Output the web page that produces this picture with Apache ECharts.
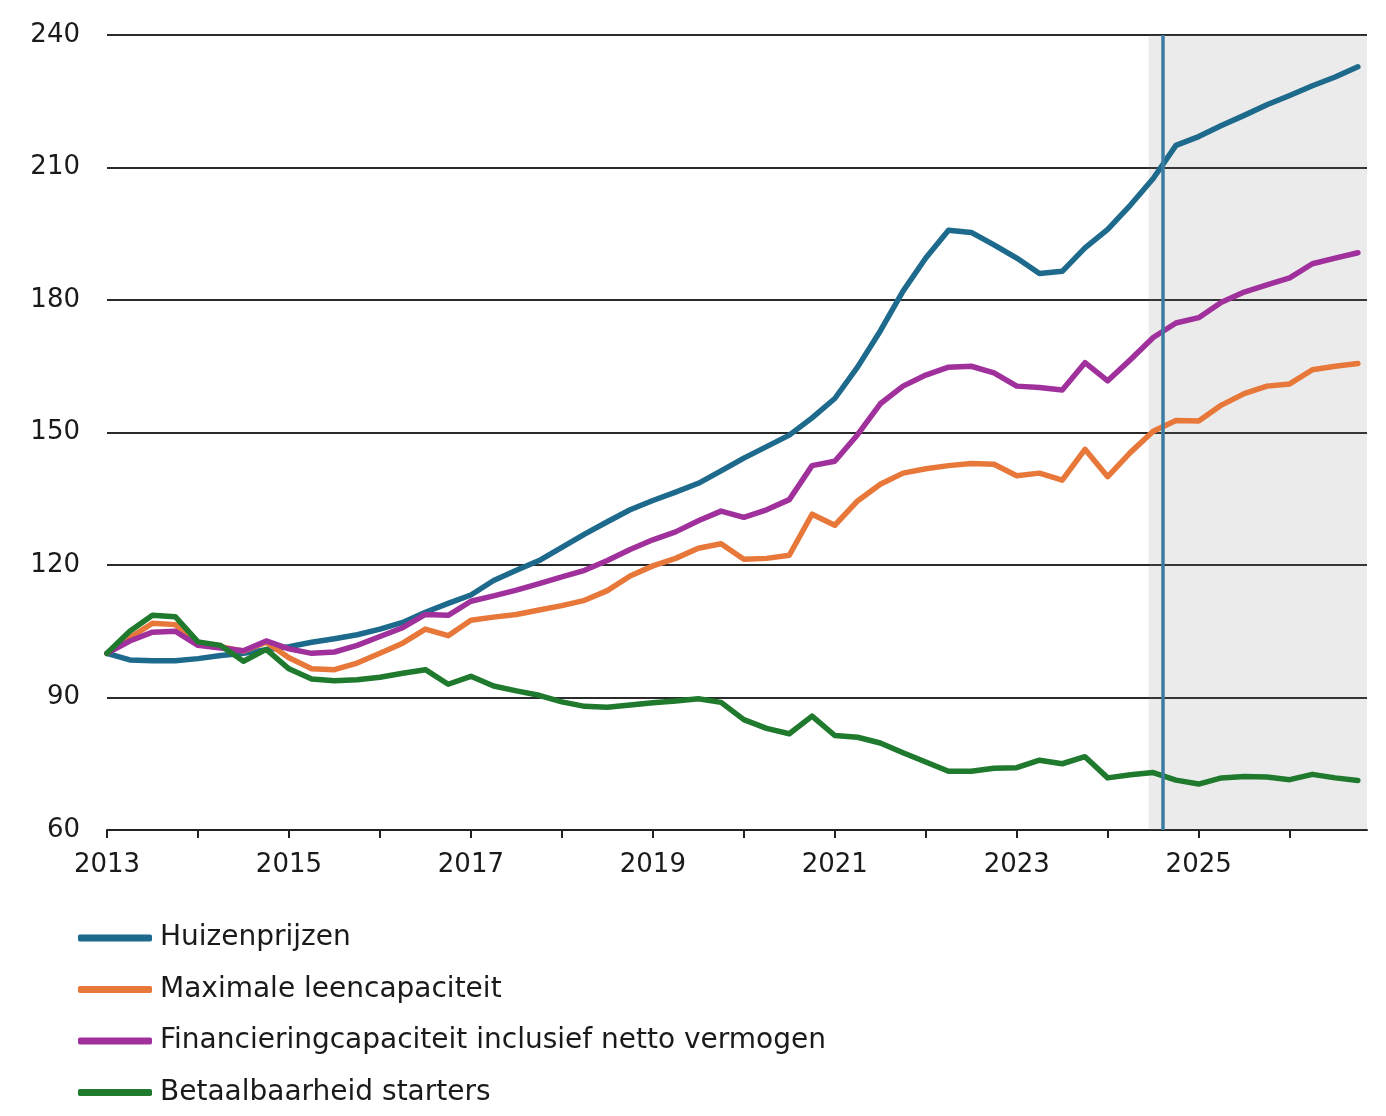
<!DOCTYPE html>
<html>
<head>
<meta charset="utf-8">
<script src="https://cdn.jsdelivr.net/npm/echarts@6/dist/echarts.min.js"></script>
<style>
html,body{margin:0;padding:0;background:#fff;}
#chart{width:1386px;height:1116px;}
</style>
</head>
<body>
<div id="chart"></div>
<script>
// Quarterly observations 2013Q1 .. 2026Q4
const startYear = 2013;
const quarterCount = 56;
const xTickYears = [2013,2014,2015,2016,2017,2018,2019,2020,2021,2022,2023,2024,2025,2026];
const xLabelYears = [2013,2015,2017,2019,2021,2023,2025];
const yTicks = [60,90,120,150,180,210,240];

const seriesNames = [
  'Huizenprijzen',
  'Maximale leencapaciteit',
  'Financieringcapaciteit inclusief netto vermogen',
  'Betaalbaarheid starters'
];

const huizenprijzen = [
  100, 98.5, 98.3, 98.3, 98.8, 99.5, 100, 100.8,
  101.5, 102.5, 103.3, 104.2, 105.5, 107, 109.3, 111.3,
  113.2, 116.5, 118.8, 121, 124, 127, 129.8, 132.5,
  134.6, 136.5, 138.5, 141.3, 144.2, 146.8, 149.4, 153.3,
  157.7, 164.8, 173, 182, 189.5, 195.8, 195.3, 192.5,
  189.5, 186, 186.5, 191.8, 196, 201.5, 207.5, 215,
  217, 219.5, 221.8, 224.2, 226.3, 228.5, 230.5, 232.8
];
const leencapaciteit = [
  100, 103.5, 106.8, 106.5, 102.2, 101.5, 100.5, 102.5,
  99, 96.5, 96.3, 97.8, 100, 102.3, 105.5, 104,
  107.5, 108.2, 108.8, 109.8, 110.8, 112, 114.2, 117.5,
  119.8, 121.5, 123.8, 124.8, 121.3, 121.5, 122.2, 131.5,
  129, 134.5, 138.3, 140.8, 141.8, 142.5, 143, 142.8,
  140.2, 140.8, 139.2, 146.2, 140, 145.5, 150.3, 152.7,
  152.6, 156.2, 158.8, 160.5, 161, 164.2, 165, 165.6
];
const financiering = [
  100, 102.8, 104.8, 105, 101.8, 101.2, 100.6, 102.8,
  101, 100, 100.3, 101.8, 103.8, 105.8, 108.8, 108.6,
  111.8, 113, 114.3, 115.8, 117.3, 118.8, 121, 123.5,
  125.7, 127.5, 130, 132.2, 130.8, 132.5, 134.8, 142.5,
  143.5, 149.5, 156.5, 160.5, 163, 164.8, 165, 163.5,
  160.5, 160.2, 159.6, 165.8, 161.7, 166.5, 171.5, 174.8,
  176, 179.5, 181.8, 183.4, 185, 188.2, 189.5, 190.7
];
const betaalbaarheid = [
  100, 105, 108.6, 108.3, 102.6, 101.8, 98.2, 100.9,
  96.5, 94.2, 93.8, 94, 94.6, 95.5, 96.3, 93,
  94.8, 92.6, 91.5, 90.5, 89, 88, 87.8, 88.3,
  88.8, 89.2, 89.7, 88.9, 85, 83, 81.8, 85.8,
  81.4, 81, 79.7, 77.5, 75.4, 73.3, 73.3, 74,
  74.1, 75.8, 75, 76.6, 71.8, 72.5, 73, 71.3,
  70.4, 71.8, 72.1, 72, 71.4, 72.6, 71.8, 71.2
];
const forecastStart = 2024.45;
const forecastLine = 2024.6;
const axisEnd = 2026.85;

const colors = ['#1d6a8c', '#e8783a', '#a0309b', '#1f7a2e'];

const quarterX = [];
for (let i = 0; i < quarterCount; i++) quarterX.push(startYear + i * 0.25);
const pair = arr => arr.map((v, i) => [quarterX[i], v]);

const chart = echarts.init(document.getElementById('chart'));
const font = 'DejaVu Sans';
const lineSeries = [huizenprijzen, leencapaciteit, financiering, betaalbaarheid].map((arr, k) => ({
  name: seriesNames[k],
  type: 'line',
  data: pair(arr),
  showSymbol: false,
  symbol: 'none',
  smooth: false,
  lineStyle: { width: 5.5, color: colors[k], join: 'round', cap: 'round' },
  itemStyle: { color: colors[k] },
  z: 3 + k,
  silent: true
}));
lineSeries[0].markLine = {
  silent: true,
  symbol: 'none',
  label: { show: false },
  lineStyle: { color: '#3b7ca2', width: 3.5, type: 'solid' },
  data: [{ xAxis: forecastLine }],
  z: 10
};

chart.setOption({
  animation: false,
  backgroundColor: '#ffffff',
  grid: { left: 107, right: 19, top: 35, bottom: 286 },
  legend: {
    data: seriesNames,
    orient: 'vertical',
    left: 78,
    top: 923,
    padding: 0,
    itemWidth: 74,
    itemHeight: 7,
    itemGap: 21.5,
    icon: 'roundRect',
    textStyle: { fontFamily: font, fontSize: 28, color: '#1a1a1a', lineHeight: 30, padding: [0, 0, 0, 3] },
    selectedMode: false
  },
  xAxis: {
    type: 'value',
    min: startYear,
    max: axisEnd,
    axisLine: { show: true, lineStyle: { color: '#222', width: 2 } },
    axisTick: { show: true, length: 8, lineStyle: { color: '#222', width: 2 }, customValues: xTickYears },
    axisLabel: { fontFamily: font, fontSize: 26, color: '#1a1a1a', margin: 22, customValues: xLabelYears, formatter: v => String(v) },
    splitLine: { show: false }
  },
  yAxis: {
    type: 'value',
    min: 60,
    max: 240,
    interval: 30,
    axisLine: { show: false },
    axisTick: { show: false },
    axisLabel: { fontFamily: font, fontSize: 26, color: '#1a1a1a', margin: 27 },
    splitLine: { show: true, lineStyle: { color: '#2a2a2a', width: 2 } }
  },
  series: [
    {
      name: 'forecast',
      type: 'line',
      data: [],
      silent: true,
      z: 1,
      markArea: {
        silent: true,
        itemStyle: { color: 'rgba(120,120,120,0.15)' },
        data: [[{ xAxis: forecastStart }, { xAxis: axisEnd }]]
      }
    }
  ].concat(lineSeries)
});
</script>
</body>
</html>
